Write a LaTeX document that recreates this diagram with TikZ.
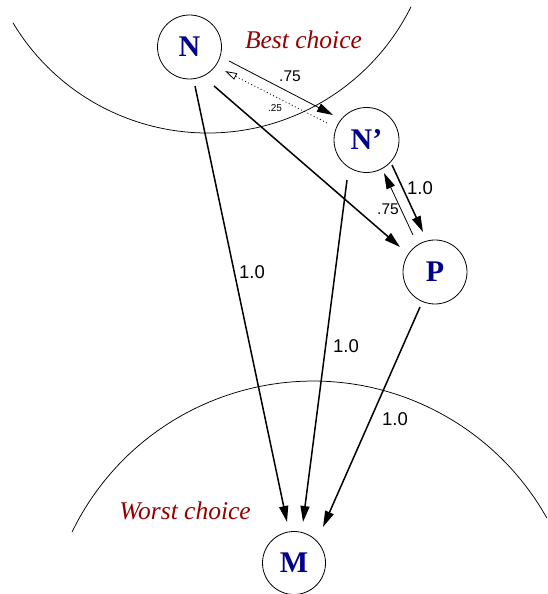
\documentclass[tikz,border=0pt]{standalone}
\usepackage{fontspec}
\setmainfont{Liberation Serif}
\newfontfamily\labelfont{Liberation Sans}
\usetikzlibrary{arrows.meta,calc}
\definecolor{nodeblue}{RGB}{0,0,140}
\definecolor{choicered}{RGB}{150,0,0}
\tikzset{
  state/.style={circle,draw,line width=0.8pt,minimum size=64pt,inner sep=0pt,
    text=nodeblue,font=\fontsize{30}{30}\selectfont\bfseries},
  heavy/.style={line width=1.5pt,-{Triangle[length=16pt,width=9pt]}},
  light/.style={line width=0.8pt,-{Triangle[length=16pt,width=9pt]}},
  back/.style={line width=0.8pt,dash pattern=on 1pt off 2.5pt,-{Triangle[open,length=12pt,width=7pt]}},
  prob/.style={font=\labelfont\fontsize{18.5}{18.5}\selectfont,inner sep=0pt},
  probmid/.style={font=\labelfont\fontsize{15.5}{15.5}\selectfont,inner sep=0pt},
  probsmall/.style={font=\labelfont\fontsize{10}{10}\selectfont,inner sep=0pt},
  choice/.style={text=choicered,font=\fontsize{25.5}{25.5}\selectfont\itshape,inner sep=0pt},
  region/.style={line width=0.75pt}
}
\begin{document}
\begin{tikzpicture}[x=1pt,y=1pt]
\useasboundingbox (0,0) rectangle (548,594);
% region arcs
\draw[region] (207.6,688) ++(211:227) arc[start angle=211,end angle=333.6,radius=227];
\draw[region] (313.1,-55.1) ++(154.1:268) arc[start angle=154.1,end angle=29.3,radius=268];
% nodes
\node[state] (N) at (189.5,547) {N};
\node[state,minimum size=65pt] (Np) at (366.5,454) {N'};
\node[state] (P) at (435,322) {P};
\node[state,minimum size=63pt] (M) at (294,31) {M};
% texts
\node[choice] (best) at (303.5,554) {Best choice};
\node[choice] (worst) at (185,83) {Worst choice};
% connectors
\draw[light] ($(N)+(39.5,-14)$) -- ($(Np)+(-33.5,25)$);
\draw[back] ($(Np)+(-39.5,17)$) -- ($(N)+(35.5,-24)$);
\draw[heavy] ($(N)+(24.5,-39)$) -- ($(P)+(-35,25)$);
\draw[heavy] ($(N)+(5.5,-39)$) -- ($(M)+(-7,41)$);
\draw[heavy] ($(Np)+(-19.5,-40)$) -- ($(M)+(9,41)$);
\draw[heavy] ($(P)+(-15,-35)$) -- ($(M)+(29,36)$);
\draw[heavy] ($(Np)+(25.5,-25)$) -- ($(P)+(-12,40)$);
\draw[light] ($(P)+(-22,37)$) -- ($(Np)+(17.5,-33)$);
% labels
\node[probmid] (l1) at (290,518) {.75};
\node[probsmall] (l2) at (275,486) {.25};
\node[prob] (l3) at (420,406) {1.0};
\node[probmid] (l4) at (388,385) {.75};
\node[prob] (l5) at (252,322) {1.0};
\node[prob] (l6) at (346,248) {1.0};
\node[prob] (l7) at (395,175) {1.0};
\end{tikzpicture}
\end{document}
